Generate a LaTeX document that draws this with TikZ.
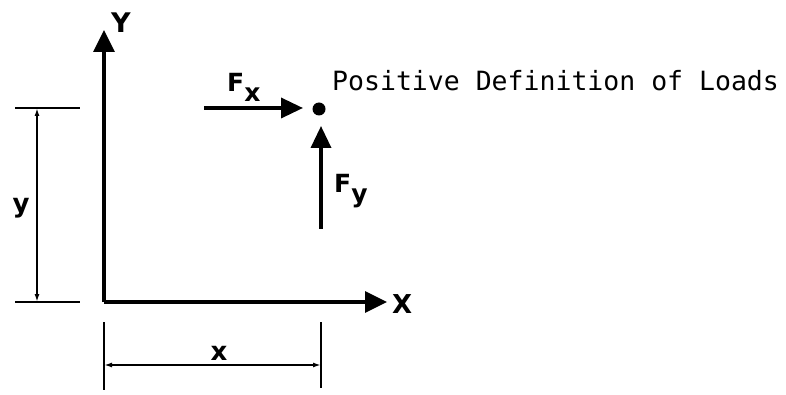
\documentclass[tikz,border=0pt]{standalone}
\usepackage{fontspec}
\setmainfont{DejaVu Sans}
\setmonofont{DejaVu Sans Mono}
\usetikzlibrary{arrows.meta}
\newcommand{\lsub}[1]{\raisebox{-10pt}{\fontsize{25}{28}\selectfont\bfseries #1}}
\begin{document}
\begin{tikzpicture}[x=1pt,y=-1pt,
  axis/.style={line width=3.5pt,-{Triangle[length=22pt,width=21pt]}},
  force/.style={line width=3.5pt,-{Triangle[length=22pt,width=20pt]}},
  dimline/.style={line width=1.8pt,{Latex[length=8pt,width=5pt]}-{Latex[length=8pt,width=5pt]}},
  ext/.style={line width=1.8pt},
  lbl/.style={font=\fontsize{25}{28}\selectfont\bfseries, inner sep=0pt}]
\useasboundingbox (0,0) rectangle (786,395);
\coordinate (O) at (104,302);
\coordinate (Ytip) at (104,30);
\coordinate (Xtip) at (387,302);
\draw[axis] (O) -- (Ytip);
\draw[axis] (O) -- (Xtip);
\node[lbl, font=\fontsize{27}{30}\selectfont\bfseries, anchor=base west] (Ylab) at (111,33) {Y};
\node[lbl, font=\fontsize{26}{30}\selectfont\bfseries, anchor=base west] (Xlab) at (392,313) {X};
% point
\fill (319,109) circle (6.5pt) coordinate (P);
\coordinate (Fxs) at (204,108);
\coordinate (Fxe) at (303,108);
\draw[force] (Fxs) -- (Fxe);
\node[lbl, anchor=base west] (Fx) at (227,92) {F\lsub{x}};
\coordinate (Fys) at (321,229);
\coordinate (Fye) at (321,126);
\draw[force] (Fys) -- (Fye);
\node[lbl, anchor=base west] (Fy) at (334,193) {F\lsub{y}};
\node[font=\ttfamily\fontsize{26.5}{30}\selectfont, anchor=west, inner sep=0pt] (title) at (332,81) {Positive Definition of Loads};
% y dimension
\coordinate (e1a) at (15,108); \coordinate (e1b) at (80,108);
\coordinate (e2a) at (15,302); \coordinate (e2b) at (80,302);
\draw[ext] (e1a) -- (e1b);
\draw[ext] (e2a) -- (e2b);
\coordinate (d1) at (37,108); \coordinate (d2) at (37,302);
\draw[dimline] (d1) -- (d2);
\node[lbl, font=\fontsize{26}{30}\selectfont\bfseries] (ylab) at (21,208) {y};
% x dimension
\coordinate (f1a) at (104,322); \coordinate (f1b) at (104,390);
\coordinate (f2a) at (321,322); \coordinate (f2b) at (321,388);
\draw[ext] (f1a) -- (f1b);
\draw[ext] (f2a) -- (f2b);
\coordinate (g1) at (104,365); \coordinate (g2) at (321,365);
\draw[dimline] (g1) -- (g2);
\node[lbl, font=\fontsize{26}{30}\selectfont\bfseries] (xlab) at (219,353) {x};
\end{tikzpicture}
\end{document}
